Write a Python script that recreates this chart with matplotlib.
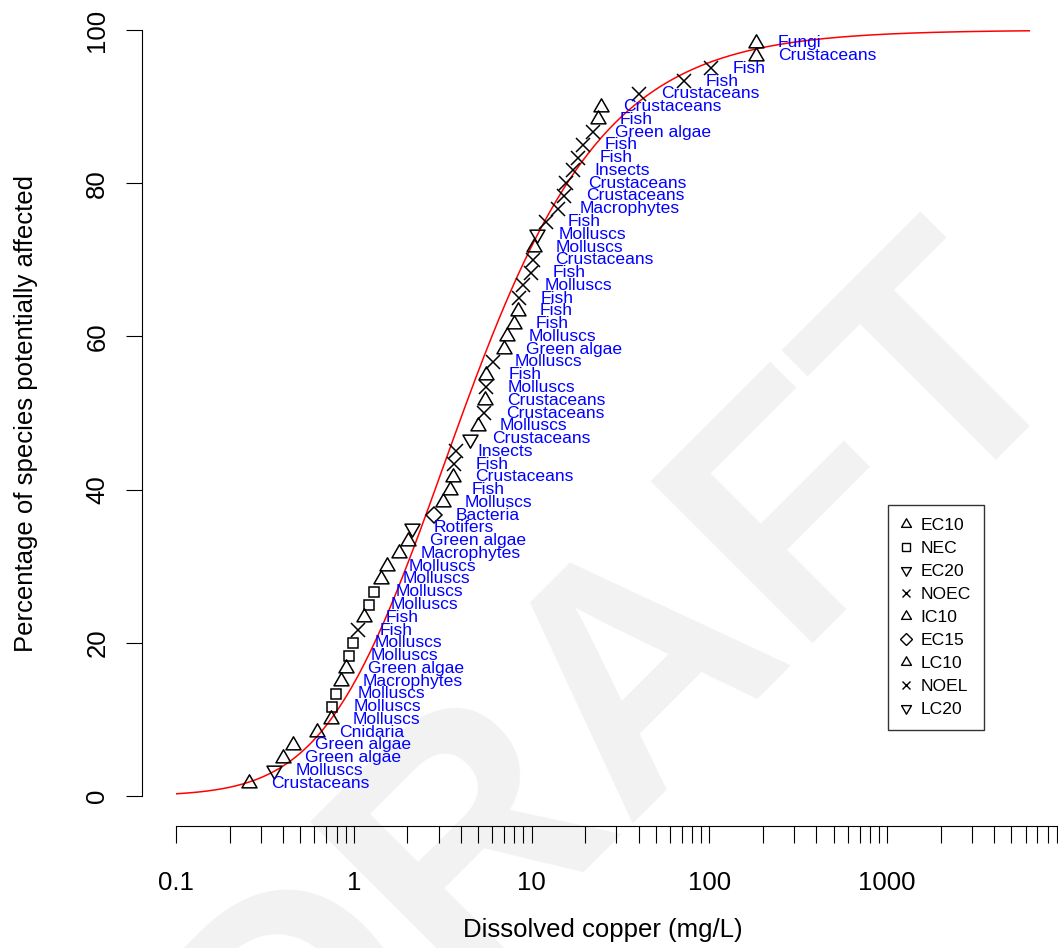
import numpy as np
import matplotlib
matplotlib.use("Agg")
import matplotlib.pyplot as plt
from matplotlib.path import Path
from matplotlib.lines import Line2D

plt.rcParams["font.family"] = ["Liberation Sans", "DejaVu Sans"]

# toxicity values (dissolved copper), sorted, with taxon group and endpoint
conc = [0.257, 0.355, 0.40, 0.454, 0.62, 0.743, 0.752, 0.79, 0.845, 0.90,
        0.937, 0.987, 1.053, 1.14, 1.21, 1.30, 1.42, 1.53, 1.79, 2.01,
        2.12, 2.82, 3.17, 3.47, 3.60, 3.65, 3.75, 4.49, 4.98, 5.38,
        5.50, 5.52, 5.55, 6.05, 6.98, 7.26, 7.94, 8.36, 8.47, 8.92,
        9.9, 10.2, 10.3, 10.7, 12.0, 14.0, 15.2, 15.6, 17.0, 18.2,
        19.4, 22.1, 23.6, 24.5, 40.1, 71.8, 101.8, 182.0, 183.0]
group = ["Crustaceans", "Molluscs", "Green algae", "Green algae", "Cnidaria",
         "Molluscs", "Molluscs", "Molluscs", "Macrophytes", "Green algae",
         "Molluscs", "Molluscs", "Fish", "Fish", "Molluscs",
         "Molluscs", "Molluscs", "Molluscs", "Macrophytes", "Green algae",
         "Rotifers", "Bacteria", "Molluscs", "Fish", "Crustaceans",
         "Fish", "Insects", "Crustaceans", "Molluscs", "Crustaceans",
         "Crustaceans", "Molluscs", "Fish", "Molluscs", "Green algae",
         "Molluscs", "Fish", "Fish", "Fish", "Molluscs",
         "Fish", "Crustaceans", "Molluscs", "Molluscs", "Fish",
         "Macrophytes", "Crustaceans", "Crustaceans", "Insects", "Fish",
         "Fish", "Green algae", "Fish", "Crustaceans", "Crustaceans",
         "Fish", "Fish", "Crustaceans", "Fungi"]
endpoint = ["LC10", "EC20", "IC10", "IC10", "EC10", "EC10", "NEC", "NEC", "EC10", "IC10",
            "NEC", "NEC", "NOEC", "LC10", "NEC", "NEC", "EC10", "EC10", "EC10", "IC10",
            "EC20", "EC15", "EC10", "LC10", "EC10", "NOEC", "NOEC", "LC20", "EC10", "NOEC",
            "EC10", "NOEC", "LC10", "NOEC", "IC10", "EC10", "LC10", "LC10", "NOEL", "NOEC",
            "NOEC", "NOEC", "EC10", "EC20", "NOEC", "NOEC", "NOEC", "NOEC", "NOEC", "NOEC",
            "NOEC", "NOEC", "LC10", "EC10", "NOEC", "NOEL", "NOEC", "EC10", "EC10"]
legend_order = ["EC10", "NEC", "EC20", "NOEC", "IC10", "EC15", "LC10", "NOEL", "LC20"]

# fitted Burr type III distribution
burr_b, burr_c, burr_k = 1.17, 0.91, 2.5
curve_range = (0.1, 6300)

tri_up = Path([(0, 1.155), (-1, -0.577), (1, -0.577), (0, 1.155)], closed=True)
tri_dn = Path([(0, -1.155), (-1, 0.577), (1, 0.577), (0, -1.155)], closed=True)
styles = {"EC10": (tri_up, 12.5), "IC10": (tri_up, 12.5), "LC10": (tri_up, 12.5),
          "EC20": (tri_dn, 12.5), "LC20": (tri_dn, 12.5),
          "NEC": ("s", 7.8), "NOEC": ("x", 9.5), "NOEL": ("x", 9.5), "EC15": ("D", 8.5)}

n = len(conc)
pct = [100.0 * (i + 1) / (n + 1) for i in range(n)]

fig = plt.figure(figsize=(10.58, 9.48), dpi=100)
fig.text(0.585, 0.27, "DRAFT", rotation=45, rotation_mode="anchor", fontsize=240,
         fontweight="bold", color="#f2f2f2", ha="center", va="center", zorder=-1)

ax = fig.add_axes([176 / 1058, 152 / 948, 882 / 1058, 766 / 948])
ax.patch.set_alpha(0)
ax.set_xscale("log")
ax.set_xlim(0.1, 10 ** ((1058 - 176) / 177.8 - 1))
ax.set_ylim(0, 100)

xs = np.logspace(np.log10(curve_range[0]), np.log10(curve_range[1]), 400)
ys = 100 * (1 + (burr_b / xs) ** burr_c) ** (-burr_k)
ax.plot(xs, ys, color="red", lw=1.1, zorder=2)

for x, y, g, e in zip(conc, pct, group, endpoint):
    m, ms = styles[e]
    ax.plot([x], [y], marker=m, ms=ms, mfc="none", mec="black", mew=1.1,
            ls="none", zorder=3, clip_on=False)
    ax.annotate(g, (x, y), xytext=(22, 0), textcoords="offset pixels",
                ha="left", va="center", color="blue", fontsize=12.6, zorder=4)

for s in ["top", "right"]:
    ax.spines[s].set_visible(False)
ax.spines["left"].set_position(("outward", 24.5))
ax.spines["bottom"].set_position(("outward", 21.6))
ax.spines["left"].set_bounds(0, 100)

ax.set_yticks([0, 20, 40, 60, 80, 100])
ax.tick_params(axis="y", length=11.5, width=0.8, labelsize=18.5, pad=12, labelrotation=90)
for t in ax.get_yticklabels():
    t.set_va("center")

xt, xl = [], []
for d in [0.1, 1, 10, 100, 1000]:
    for k in range(1, 10):
        xt.append(d * k)
        xl.append(("%g" % d) if k == 1 else "")
ax.set_xticks(xt)
ax.set_xticklabels(xl)
ax.xaxis.set_minor_locator(matplotlib.ticker.NullLocator())
ax.tick_params(axis="x", length=12.2, width=0.8, labelsize=18.5, pad=20)

ax.set_xlabel("Dissolved copper (mg/L)", fontsize=18.5)
ax.xaxis.set_label_coords((603 - 176) / 882, (796 - 918) / 766)
ax.set_ylabel("Percentage of species potentially affected", fontsize=18.5)
ax.yaxis.set_label_coords((38 - 176) / 882, 0.5)

handles = []
for e in legend_order:
    m, ms = styles[e]
    handles.append(Line2D([], [], marker=m, ms=ms * 0.66, mfc="none", mec="black",
                          mew=1.0, ls="none"))
leg = ax.legend(handles, legend_order, loc="upper left",
                bbox_to_anchor=(888 / 1058, 1 - 505 / 948), bbox_transform=fig.transFigure,
                fontsize=12.6, frameon=True, fancybox=False, edgecolor="black",
                handlelength=0.6, handletextpad=0.5, labelspacing=0.44,
                borderpad=0.75, borderaxespad=0)
leg.get_frame().set_linewidth(1.0)

fig.savefig("out.png", dpi=100)
